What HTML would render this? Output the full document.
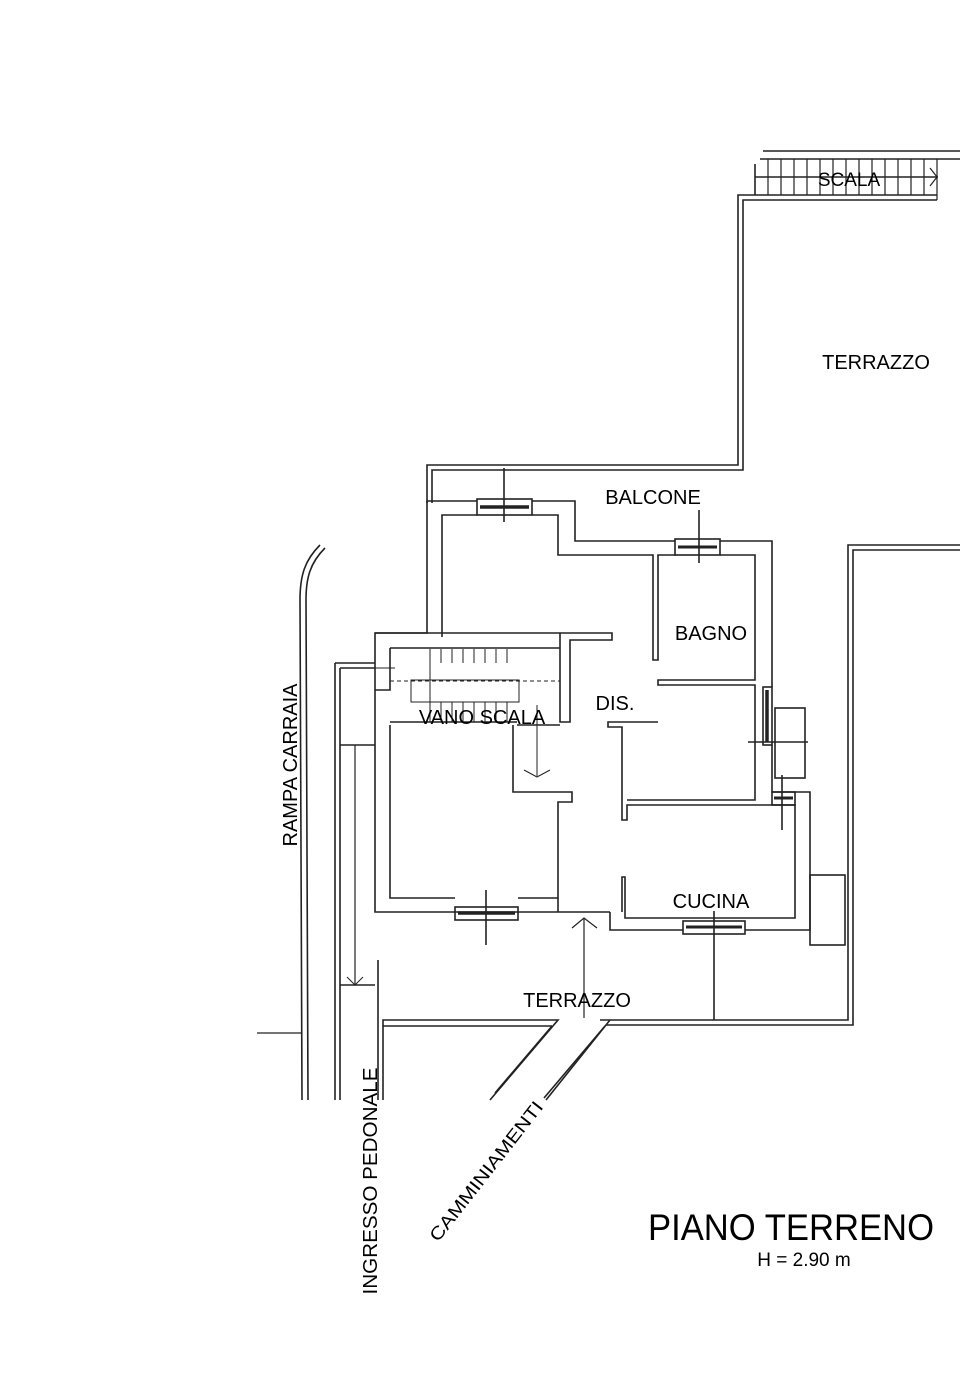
<!DOCTYPE html>
<html><head><meta charset="utf-8"><style>
html,body{margin:0;padding:0;background:#fff;}
svg{display:block;}
text{font-family:"Liberation Sans",sans-serif;fill:#000;}
</style></head><body>
<svg width="960" height="1384" viewBox="0 0 960 1384" xmlns="http://www.w3.org/2000/svg">
<g fill="none" stroke="#222" stroke-width="1.6">
<line x1="763" y1="151" x2="960" y2="151"/>
<line x1="760" y1="159" x2="960" y2="159"/>
<line x1="755" y1="177" x2="938" y2="177"/>
<line x1="755" y1="164" x2="755" y2="195"/>
<g stroke-width="1.2">
<line x1="768" y1="159" x2="768" y2="195"/><line x1="781" y1="159" x2="781" y2="195"/><line x1="794" y1="159" x2="794" y2="195"/><line x1="807" y1="159" x2="807" y2="195"/><line x1="820" y1="159" x2="820" y2="195"/><line x1="833" y1="159" x2="833" y2="195"/><line x1="846" y1="159" x2="846" y2="195"/><line x1="859" y1="159" x2="859" y2="195"/><line x1="872" y1="159" x2="872" y2="195"/><line x1="885" y1="159" x2="885" y2="195"/><line x1="898" y1="159" x2="898" y2="195"/><line x1="911" y1="159" x2="911" y2="195"/><line x1="924" y1="159" x2="924" y2="195"/><line x1="937" y1="159" x2="937" y2="200"/>
<polyline points="930,168 937,177 930,186"/>
</g>
<polyline points="937,195 738,195 738,465 427,465 427,503"/>
<polyline points="937,200 743,200 743,470 432,470 432,503"/>
<polyline points="960,545 848,545 848,1020 600,1020"/>
<polyline points="960,550 853,550 853,1025 606,1025"/>
<polyline points="477,501 427,501 427,633 375,633 375,912 610,912"/>
<polyline points="532,501 575,501 575,541 675,541"/>
<polyline points="720,541 772,541 772,687"/>
<polyline points="772,745 772,792 810,792 810,930 745,930"/>
<polyline points="683,930 610,930 610,912"/>
<rect x="477" y="499" width="55" height="16"/><line x1="480" y1="507" x2="529" y2="507" stroke-width="3.5"/>
<line x1="504" y1="468" x2="504" y2="522"/>
<rect x="675" y="539" width="45" height="16"/><line x1="678" y1="547" x2="717" y2="547" stroke-width="3"/>
<line x1="699" y1="510" x2="699" y2="563"/>
<rect x="763" y="687" width="9" height="58"/><line x1="767" y1="690" x2="767" y2="742" stroke-width="3.5"/>
<rect x="775" y="708" width="30" height="70"/><line x1="748" y1="742" x2="808" y2="742"/>
<rect x="772" y="792" width="23" height="13"/><line x1="774" y1="798" x2="793" y2="798" stroke-width="3"/>
<line x1="782" y1="775" x2="782" y2="830"/>
<rect x="455" y="907" width="63" height="13"/><line x1="458" y1="913" x2="515" y2="913" stroke-width="3.5"/>
<line x1="486" y1="890" x2="486" y2="945"/>
<rect x="683" y="921" width="62" height="13"/><line x1="686" y1="927" x2="742" y2="927" stroke-width="3"/>
<line x1="714" y1="911" x2="714" y2="1020"/>
<rect x="810" y="875" width="35" height="70"/>
<polyline points="442,637 442,515 477,515"/>
<polyline points="532,515 558,515 558,555 653,555 653,660 658,660 658,555 676,555"/>
<polyline points="720,555 755,555 755,680 658,680 658,685 755,685 755,800 627,800"/>
<polyline points="658,722 608,722 608,727 622,727 622,820 627,820 627,805 795,805 795,918 625,918 625,877 622,877 622,912"/>
<polyline points="375,633 560,633 560,722 570,722 570,640 612,640 612,633 560,633"/>
<polyline points="390,648 560,648"/>
<polyline points="390,648 390,690 375,690"/>
<line x1="390" y1="722" x2="517" y2="722"/>
<rect x="411" y="680" width="108" height="22" stroke-width="1"/>
<g stroke-width="1">
<line x1="430" y1="649" x2="430" y2="722"/><line x1="441" y1="649" x2="441" y2="663"/><line x1="452" y1="649" x2="452" y2="663"/><line x1="463" y1="649" x2="463" y2="663"/><line x1="474" y1="649" x2="474" y2="663"/><line x1="485" y1="649" x2="485" y2="663"/><line x1="496" y1="649" x2="496" y2="663"/><line x1="507" y1="649" x2="507" y2="663"/>
<line x1="441" y1="702" x2="441" y2="722"/><line x1="452" y1="702" x2="452" y2="722"/><line x1="463" y1="702" x2="463" y2="722"/><line x1="474" y1="702" x2="474" y2="722"/><line x1="485" y1="702" x2="485" y2="722"/><line x1="496" y1="702" x2="496" y2="722"/><line x1="507" y1="702" x2="507" y2="722"/>
<line x1="390" y1="681" x2="560" y2="681" stroke-dasharray="4,3"/>
<line x1="348" y1="668" x2="395" y2="668"/>
<line x1="537" y1="705" x2="537" y2="776"/><polyline points="524,770 537,777 550,770"/>
</g>
<polyline points="390,725 390,898 455,898"/>
<polyline points="518,898 558,898 558,802 572,802 572,792 513,792 513,725"/>
<line x1="517" y1="725" x2="560" y2="725"/>
<line x1="558" y1="898" x2="558" y2="912"/>
<line x1="584" y1="918" x2="584" y2="1018" stroke-width="1.2"/><polyline points="572,928 584,918 597,928" stroke-width="1.2"/>
<polyline points="378,1100 378,960"/><polyline points="383,1100 383,1020 558,1020 490,1100"/>
<line x1="383" y1="1026" x2="552" y2="1026"/><line x1="552" y1="1026" x2="495" y2="1093"/>
<line x1="610" y1="1020" x2="546" y2="1100"/><line x1="605" y1="1026" x2="544" y2="1098"/>
<line x1="335" y1="663" x2="335" y2="1100"/><line x1="340" y1="668" x2="340" y2="1100"/>
<line x1="335" y1="663" x2="375" y2="663"/><line x1="340" y1="668" x2="375" y2="668"/>
<line x1="340" y1="745" x2="375" y2="745"/><line x1="340" y1="985" x2="375" y2="985"/>
<line x1="355" y1="745" x2="355" y2="985" stroke-width="1.2"/><polyline points="347,977 355,985 363,977" stroke-width="1"/>
<path d="M320,545 C305,560 300,575 300,600 L302,1100"/>
<path d="M325,548 C310,563 306,578 306,600 L308,1100"/>
<line x1="257" y1="1033" x2="302" y2="1033" stroke-width="1.2"/>
</g>
<g font-size="20">
<text x="849" y="186" text-anchor="middle" font-size="19">SCALA</text>
<text x="876" y="369" text-anchor="middle">TERRAZZO</text>
<text x="653" y="504" text-anchor="middle">BALCONE</text>
<text x="711" y="640" text-anchor="middle">BAGNO</text>
<text x="615" y="710" text-anchor="middle">DIS.</text>
<text x="482" y="724" text-anchor="middle">VANO SCALA</text>
<text x="711" y="908" text-anchor="middle">CUCINA</text>
<text x="577" y="1007" text-anchor="middle">TERRAZZO</text>
<text transform="translate(297,765) rotate(-90)" text-anchor="middle" font-size="20">RAMPA CARRAIA</text>
<text transform="translate(377,1181) rotate(-90)" text-anchor="middle" font-size="20" textLength="227" lengthAdjust="spacingAndGlyphs">INGRESSO PEDONALE</text>
<text transform="translate(491,1175) rotate(-52)" text-anchor="middle" font-size="18" textLength="172" lengthAdjust="spacingAndGlyphs">CAMMINIAMENTI</text>
</g>
<text x="648" y="1240" font-size="37" textLength="286" lengthAdjust="spacingAndGlyphs">PIANO TERRENO</text>
<text x="804" y="1266" font-size="19" text-anchor="middle">H = 2.90 m</text>
</svg>
</body></html>
